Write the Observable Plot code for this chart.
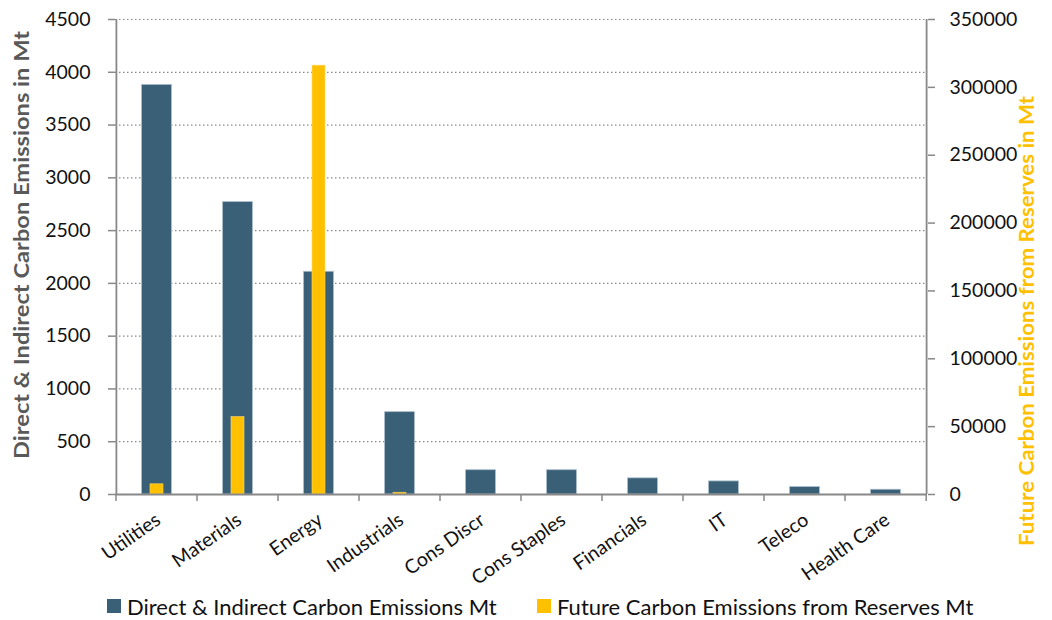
<!DOCTYPE html>
<html>
<head>
<meta charset="utf-8">
<script src="https://cdn.jsdelivr.net/npm/d3@7"></script>
<script src="https://cdn.jsdelivr.net/npm/@observablehq/plot@0.6"></script>
<style>
  html, body { margin: 0; padding: 0; background: #fff; }
  body { width: 1052px; height: 620px; overflow: hidden; font-family: Lato, "Open Sans", sans-serif; }
  #legend { position: relative; height: 32px; font-size: 22px; color: #111; }
  .item { position: absolute; top: 3px; display: flex; align-items: center; height: 30px; }
  .sw { width: 14px; height: 14px; margin-right: 6px; }
</style>
</head>
<body>
<div id="chart"></div>
<div id="legend"></div>
<script>
const categories = ["Utilities","Materials","Energy","Industrials","Cons Discr","Cons Staples","Financials","IT","Teleco","Health Care"];
const direct = [3880, 2770, 2110, 780, 230, 230, 153, 124, 70, 45];
const future = [7500, 57000, 316000, 1300, 0, 0, 0, 0, 0, 0];
const leftTicks = [0,500,1000,1500,2000,2500,3000,3500,4000,4500];
const rightTicks = [0,50000,100000,150000,200000,250000,300000,350000];
const leftTitle = "Direct & Indirect Carbon Emissions in Mt";
const rightTitle = "Future Carbon Emissions from Reserves in Mt";
const seriesNames = ["Direct & Indirect Carbon Emissions Mt", "Future Carbon Emissions from Reserves Mt"];
const colors = ["#3a6078", "#ffc000"];

const leftMax = 4500, rightMax = 350000;
const k = leftMax / rightMax;

const rowsDirect = categories.map((c, i) => ({cat: c, v: direct[i]}));
const rowsFuture = categories.map((c, i) => ({cat: c, v: future[i] * k})).filter(d => d.v > 0);

const W = 1052, H = 588;
const mL = 115, mR = 125, mT = 19, mB = H - 494;
const step = (W - mL - mR) / categories.length;
const font = "Lato, 'Open Sans', sans-serif";
const axisColor = "#888888";

const chart = Plot.plot({
  width: W, height: H,
  marginLeft: mL, marginRight: mR, marginTop: mT, marginBottom: mB,
  style: {fontFamily: font, fontSize: "19.5px", color: "#111", background: "#fff"},
  x: {domain: categories, padding: 0, axis: null},
  y: {domain: [0, leftMax], axis: null},
  marks: [
    // dotted gridlines
    Plot.ruleY(leftTicks.filter(t => t > 0), {stroke: "#8a8a8a", strokeWidth: 1.2, strokeDasharray: "1.5,2.5"}),
    // blue bars
    Plot.barY(rowsDirect, {x: "cat", y: "v", fill: colors[0], stroke: "#a9bccb", strokeWidth: 0.8, insetLeft: 25.6, insetRight: 25.6}),
    // yellow bars (right scale, mapped)
    Plot.barY(rowsFuture, {x: "cat", y: "v", fill: colors[1], stroke: "#ffd966", strokeWidth: 0.6, insetLeft: 34, insetRight: 34}),
    // left axis line
    Plot.ruleX([categories[0]], {x: d => d, dx: -step / 2, y1: 0, y2: leftMax, stroke: axisColor, strokeWidth: 1.8}),
    // right axis line
    Plot.ruleX([categories[categories.length - 1]], {x: d => d, dx: step / 2, y1: 0, y2: leftMax, stroke: axisColor, strokeWidth: 1.8}),
    // bottom axis line
    Plot.ruleY([0], {stroke: axisColor, strokeWidth: 1.8}),
    // left axis ticks + labels
    Plot.axisY({ticks: leftTicks, tickSize: 7, tickPadding: 18, stroke: axisColor, strokeWidth: 1.5, fontSize: "19.5px", tickFormat: d => String(d), label: null, anchor: "left"}),
    // right axis ticks + labels
    Plot.axisY({anchor: "right", ticks: rightTicks.map(t => t * k), tickSize: 7, tickPadding: 15, stroke: axisColor, strokeWidth: 1.5, fontSize: "19.5px", tickFormat: d => String(Math.round(d / k)), label: null}),
    // category labels
    Plot.text(categories, {x: d => d, y: 0, text: d => d, rotate: -35, textAnchor: "end", lineAnchor: "top", dx: -3, dy: 17, fontSize: 19.5, fill: "#111"}),
    // axis titles
    Plot.text([leftTitle], {className: "ltitle", frameAnchor: "left", textAnchor: "middle", dx: -93, dy: -12, rotate: -90, fontWeight: "bold", fontSize: 20.5, fill: "#595959"}),
    Plot.text([rightTitle], {className: "rtitle", frameAnchor: "right", textAnchor: "middle", dx: 100, dy: 64, rotate: -90, fontWeight: "bold", fontSize: 20.5, fill: colors[1]})
  ]
});

const xs = chart.scale("x");
document.getElementById("chart").appendChild(chart);

const svg = d3.select(chart);
// stretch titles to the reference's length
svg.selectAll(".ltitle text").attr("textLength", 428).attr("lengthAdjust", "spacingAndGlyphs");
svg.selectAll(".rtitle text").attr("textLength", 450).attr("lengthAdjust", "spacingAndGlyphs");

// category boundary ticks below the axis
const bnds = categories.map(c => xs.apply(c)).concat([xs.apply(categories[categories.length - 1]) + step]);
svg.append("g").selectAll("line").data(bnds).join("line")
  .attr("x1", d => d).attr("x2", d => d)
  .attr("y1", H - mB).attr("y2", H - mB + 7)
  .attr("stroke", axisColor).attr("stroke-width", 1.5);

// legend
const leg = document.getElementById("legend");
const pos = [107, 537];
seriesNames.forEach((n, i) => {
  const it = document.createElement("div");
  it.className = "item";
  it.style.left = pos[i] + "px";
  it.innerHTML = `<span class="sw" style="background:${colors[i]}"></span><span>${n}</span>`;
  leg.appendChild(it);
});
</script>
</body>
</html>
